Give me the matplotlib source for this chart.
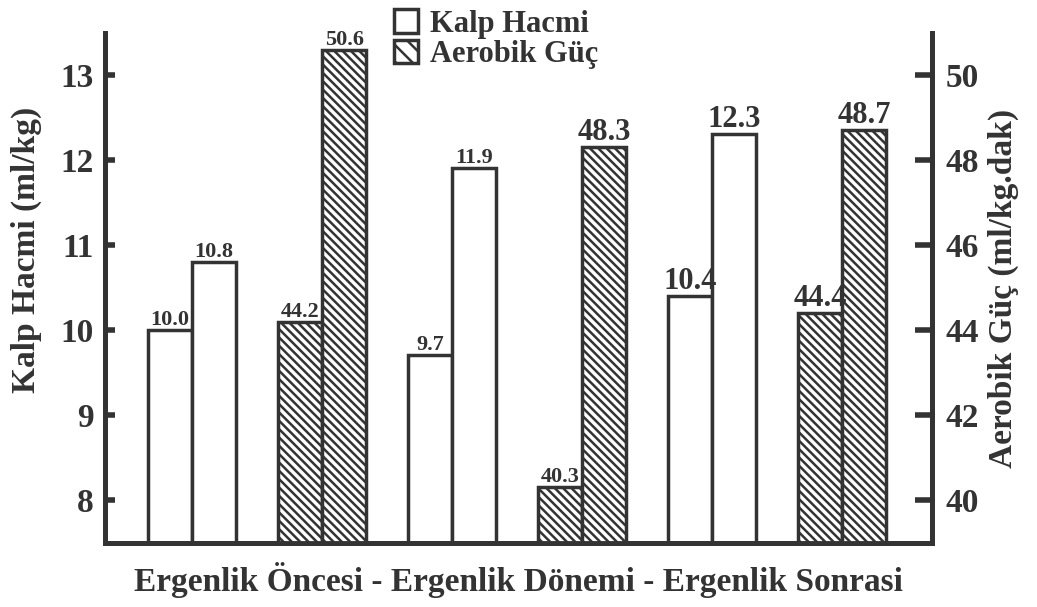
import matplotlib.pyplot as plt
from matplotlib.patches import Patch
import numpy as np

# pairs: Kalp Hacmi (left axis) / Aerobik Guc (right axis) per period
periods = ["Ergenlik Öncesi", "Ergenlik Dönemi", "Ergenlik Sonrasi"]
kalp_first = [10.0, 9.7, 10.4]
kalp_second = [10.8, 11.9, 12.3]
aerobik_first = [44.2, 40.3, 44.4]
aerobik_second = [50.6, 48.3, 48.7]

left_ticks = [8, 9, 10, 11, 12, 13]
right_ticks = [40, 42, 44, 46, 48, 50]

ink = '#333333'
plt.rcParams['font.family'] = ['Liberation Serif', 'DejaVu Serif']
plt.rcParams['font.weight'] = 'bold'
plt.rcParams['axes.labelweight'] = 'bold'
plt.rcParams['hatch.linewidth'] = 1.8
plt.rcParams['hatch.color'] = ink

fig = plt.figure(figsize=(10.37, 6.07), dpi=100)
ax = fig.add_axes([105 / 1037, 64 / 607, 827 / 1037, 510 / 607])
ax2 = ax.twinx()

w = 0.34
kx = np.arange(len(periods)) * 2
ax_x = kx + 1


def draw_pair(axis, xs, first, second, hatch, first_sizes, second_sizes):
    for x, a, b, sa, sb in zip(xs, first, second, first_sizes, second_sizes):
        for xpos, val, fs in ((x - w / 2, a, sa), (x + w / 2, b, sb)):
            axis.bar(xpos, val, width=w, facecolor='white', edgecolor=ink,
                     linewidth=2.5, hatch=hatch, zorder=2)
            axis.annotate(f"{val:.1f}", (xpos, val), xytext=(0, 0),
                          textcoords='offset points', ha='center', va='bottom',
                          fontsize=fs, color=ink, fontweight='bold')


draw_pair(ax, kx, kalp_first, kalp_second, None, [16, 16, 22], [16, 16, 22])
draw_pair(ax2, ax_x, aerobik_first, aerobik_second, '\\\\\\\\',
          [16, 16, 22], [16, 22, 22])

ax.set_xlim(-0.669, 5.69)
ax.set_ylim(7.494, 13.494)
ax2.set_ylim(38.99, 50.99)
ax.set_yticks(left_ticks)
ax2.set_yticks(right_ticks)
ax.set_xticks([])

for a in (ax, ax2):
    a.spines['top'].set_visible(False)
    for s in ('left', 'right', 'bottom'):
        a.spines[s].set_linewidth(3.5)
        a.spines[s].set_color(ink)
ax.tick_params(axis='y', direction='in', length=7, width=4, color=ink,
               labelsize=24, labelcolor=ink, pad=8)
ax2.tick_params(axis='y', direction='in', length=12, width=4, color=ink,
                labelsize=24, labelcolor=ink, pad=10)

ax.set_ylabel("Kalp Hacmi (ml/kg)", fontsize=24, color=ink)
ax.yaxis.set_label_coords(-0.076, 0.575)
ax2.set_ylabel("Aerobik Güç (ml/kg.dak)", fontsize=24, color=ink, labelpad=6)
ax.set_xlabel(" - ".join(periods), fontsize=24, color=ink, labelpad=14)

handles = [Patch(facecolor='white', edgecolor=ink, linewidth=2.5),
           Patch(facecolor='white', edgecolor=ink, linewidth=2.5, hatch='\\\\')]
fig.legend(handles, ["Kalp Hacmi", "Aerobik Güç"], loc='upper left',
           bbox_to_anchor=(366 / 1037, 1.03), frameon=False, fontsize=22,
           handlelength=0.8, handleheight=0.8, handletextpad=0.4,
           labelspacing=0.05, labelcolor=ink)

fig.savefig('out.png', dpi=100)
